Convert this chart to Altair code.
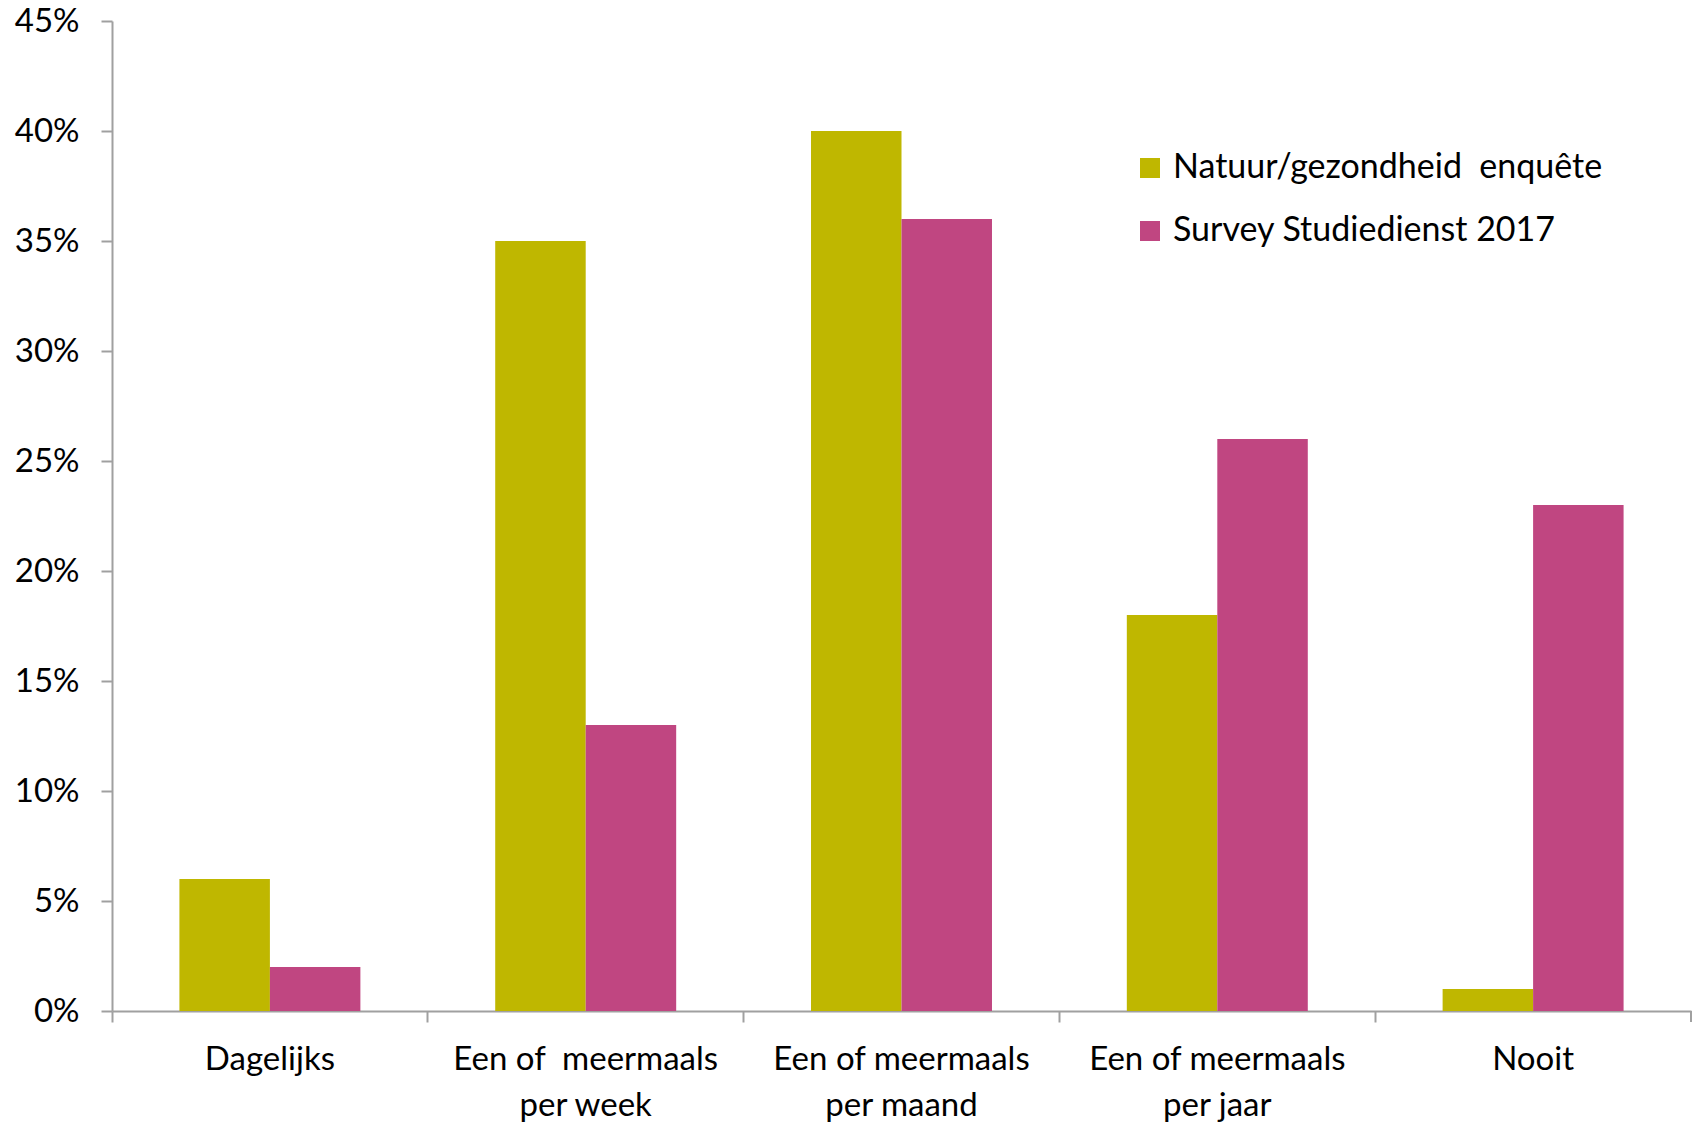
import altair as alt
import pandas as pd

categories = ["Dagelijks", "Een of\u00a0 meermaals\nper week", "Een of meermaals\nper maand",
              "Een of meermaals\nper jaar", "Nooit"]
series = ["Natuur/gezondheid\u00a0 enquête", "Survey Studiedienst 2017"]
natuur = [0.06, 0.35, 0.40, 0.18, 0.01]
survey = [0.02, 0.13, 0.36, 0.26, 0.23]
colors = ["#BFB700", "#C04681"]
y_ticks = [0, 0.05, 0.10, 0.15, 0.20, 0.25, 0.30, 0.35, 0.40, 0.45]

rows = []
for c, a, b in zip(categories, natuur, survey):
    rows.append({"cat": c, "series": series[0], "value": a})
    rows.append({"cat": c, "series": series[1], "value": b})
df = pd.DataFrame(rows)

FONT = "Lato"
FS = 33
W, H = 1579, 990

bars = alt.Chart(df).mark_bar().encode(
    x=alt.X("cat:N", sort=categories, title=None,
            scale=alt.Scale(paddingInner=0, paddingOuter=0),
            axis=alt.Axis(labelAngle=0, labelExpr="split(datum.label, '\\n')",
                          labelLineHeight=46, labelFontSize=FS, labelFont=FONT,
                          labelColor="#000000", labelPadding=21, labelBaseline="top",
                          labelLimit=0,
                          bandPosition=0, tickSize=11, tickColor="#A0A0A0", tickWidth=2,
                          domainColor="#A0A0A0", domainWidth=2)),
    xOffset=alt.XOffset("series:N", sort=series,
                        scale=alt.Scale(paddingInner=0, paddingOuter=0.745)),
    y=alt.Y("value:Q", title=None,
            scale=alt.Scale(domain=[0, 0.45], nice=False),
            axis=alt.Axis(values=y_ticks, format=".0%", labelFontSize=FS, labelFont=FONT,
                          labelColor="#000000", labelPadding=22, grid=False,
                          tickSize=11, tickColor="#A0A0A0", tickWidth=2,
                          domainColor="#A0A0A0", domainWidth=2)),
    color=alt.Color("series:N", sort=series,
                    scale=alt.Scale(domain=series, range=colors),
                    legend=alt.Legend(title=None, orient="none", legendX=1021, legendY=130,
                                      symbolType="square", symbolSize=400,
                                      symbolStrokeWidth=0, labelFontSize=34,
                                      labelFont=FONT, labelColor="#000000",
                                      rowPadding=29, labelOffset=6, padding=0,
                                      labelLimit=0)),
)

end_tick = alt.Chart(pd.DataFrame({"v": [0]})).mark_rule(color="#A0A0A0", strokeWidth=2).encode(
    x=alt.value(W), y=alt.value(H), y2=alt.value(H + 11))

chart = alt.layer(bars, end_tick).properties(
    width=W, height=H,
    padding={"left": 14, "top": 5, "right": 5, "bottom": 5},
).configure(background="white").configure_view(stroke=None)

chart.save("out.html", embed_options={"renderer": "svg", "actions": False})
